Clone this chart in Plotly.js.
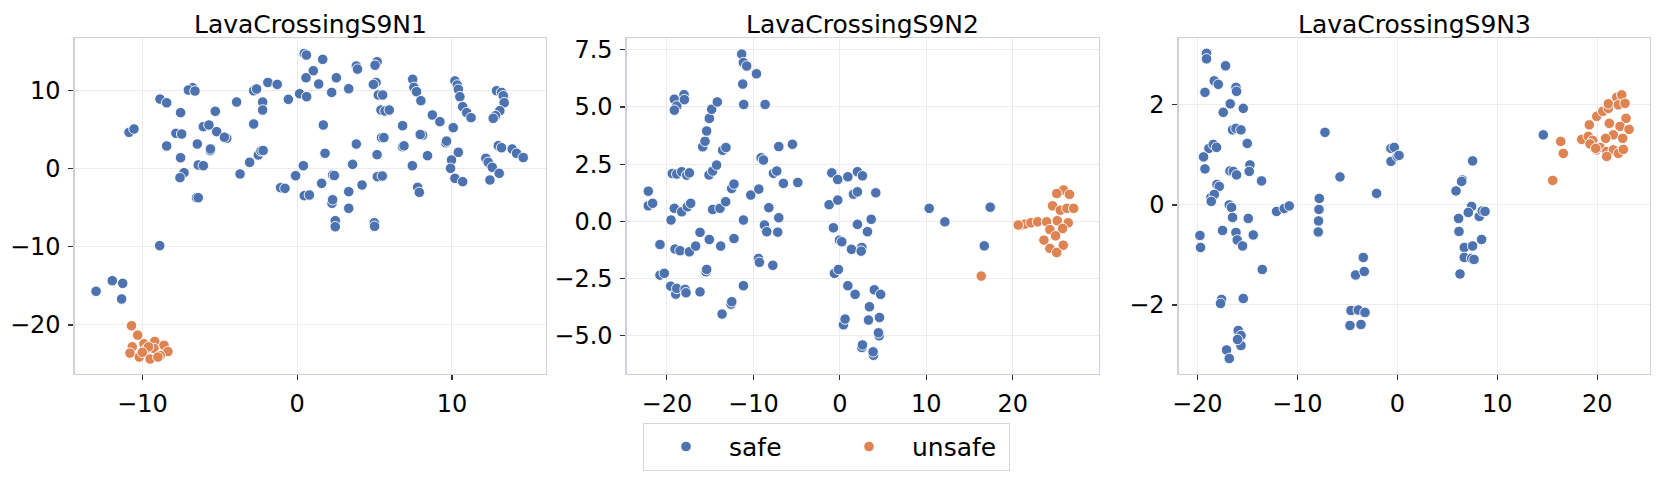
<!DOCTYPE html>
<html>
<head>
<meta charset="utf-8">
<script src="https://cdn.plot.ly/plotly-3.0.1.min.js"></script>
<style>html,body{margin:0;padding:0;background:#fff;}#chart{width:1661px;height:479px;}</style>
</head>
<body>
<div id="chart"></div>
<script>
// ---------- DATA ----------
const titles = ["LavaCrossingS9N1", "LavaCrossingS9N2", "LavaCrossingS9N3"];
const seriesNames = ["safe", "unsafe"];

// Panel 1
const p1SafeX = [0.46,0.6,1.65,1.04,0.57,1.39,2.53,2.23,3.33,3.82,3.9,5.16,5.03,5.09,4.92,5.24,5.52,5.41,5.67,5.95,0.16,0.61,-0.57,-1.89,-1.29,-2.81,-2.62,-2.23,-2.23,-3.91,-2.81,-5.29,-6.75,-7.03,-6.6,-8.86,-8.43,-7.53,-10.86,-10.54,-7.83,-7.46,-8.43,-7.53,-7.31,-7.57,-6.5,-6.39,-6.06,-5.7,-5.2,-4.55,-4.7,-6.45,-5.61,-5.6,-6.39,-6.06,-3.69,-3.07,-2.51,-2.34,-2.2,-1.07,-0.79,-0.1,0.4,0.46,0.79,1.69,1.8,1.58,2.29,2.4,2.25,2.29,2.46,2.46,3.33,3.33,3.58,3.82,4.19,5.16,5.45,5.6,5.18,5.5,4.98,5.0,6.81,6.81,6.9,7.44,7.46,7.54,7.71,7.99,8.73,9.22,8.1,7.95,8.42,7.78,7.89,9.59,9.65,10.08,10.41,9.97,9.91,10.19,10.69,10.19,10.34,10.41,10.51,10.69,10.95,11.23,12.88,13.2,13.31,13.37,13.09,12.81,12.66,12.99,13.2,13.89,14.17,14.6,12.19,12.34,12.6,13.05,12.45,-8.88,-12.99,-11.94,-11.27,-11.34];
const p1SafeY = [14.7,14.5,13.95,12.5,11.6,10.8,11.6,9.73,10.2,13.1,12.7,13.65,13.2,11.0,10.75,9.4,9.4,7.48,7.35,7.48,9.56,9.18,8.84,11.0,10.75,9.94,10.16,8.5,7.48,8.5,5.69,7.31,10.33,10.03,9.9,8.87,8.4,7.14,4.62,5.05,4.49,4.41,2.88,1.38,-0.53,-1.17,-3.73,-3.73,5.35,5.56,4.71,3.86,4.0,3.13,2.28,2.5,0.45,0.36,-0.7,0.79,1.73,2.25,2.3,-2.45,-2.54,-0.92,0.36,-3.47,-3.39,5.56,1.94,-1.9,-0.83,-0.9,-4.45,-4.0,-6.67,-7.44,-2.96,-5.09,0.53,3.13,-2.11,1.77,3.94,3.95,-1.04,-0.96,-6.93,-7.39,5.47,2.79,2.9,0.36,11.4,10.37,9.82,8.67,6.84,5.99,4.28,4.35,1.64,-2.41,-3.05,3.3,3.5,5.22,2.07,1.09,0.02,-1.26,-1.68,11.2,10.67,10.12,9.18,7.9,7.14,6.5,9.94,9.73,9.3,8.41,7.39,6.75,6.41,2.92,2.66,2.49,1.94,1.4,1.3,0.79,0.15,-0.62,-1.47,-9.86,-15.7,-14.34,-14.68,-16.68];
const p1UnsafeX = [-10.7,-10.3,-9.9,-9.2,-10.65,-8.6,-8.35,-10.8,-9.8,-9.25,-10.2,-9.5,-8.85,-9.6,-10.0,-9.0];
const p1UnsafeY = [-20.1,-21.3,-22.4,-22.1,-22.8,-22.6,-23.4,-23.6,-23.2,-23.0,-24.1,-24.35,-23.9,-22.8,-23.5,-24.1];

// Panel 2
const p2SafeX = [-22.15,-22.15,-21.65,-20.8,-20.8,-20.3,-19.56,-18.98,-18.86,-17.9,-17.79,-16.17,-19.52,-19.14,-18.29,-17.63,-17.25,-19.06,-18.48,-17.4,-16.67,-16.17,-15.09,-13.78,-12.24,-15.48,-15.4,-13.62,-12.58,-12.5,-11.15,-19.37,-18.86,-18.29,-17.71,-17.4,-19.14,-18.02,-18.86,-19.14,-17.98,-15.86,-15.59,-15.4,-15.09,-14.82,-14.17,-15.13,-14.71,-14.25,-13.55,-13.17,-14.71,-13.86,-13.2,-12.51,-12.24,-11.15,-10.3,-9.37,-11.35,-11.15,-10.77,-11.23,-11.11,-9.64,-8.64,-9.1,-8.83,-7.67,-7.29,-7.06,-5.48,-6.52,-4.86,-8.21,-7.06,-8.72,-8.45,-7.18,-9.41,-9.3,-7.75,-0.93,-0.24,0.93,2.04,2.62,1.58,2.04,4.16,-1.24,-0.24,-0.74,-0.04,0.23,1.35,2.04,3.2,3.63,2.55,2.47,-0.62,-0.16,0.93,1.77,3.99,4.72,3.43,0.42,0.61,3.32,4.59,4.55,4.47,2.55,2.62,3.9,3.85,10.34,12.15,17.4,16.71];
const p2SafeY = [1.32,0.68,0.79,-1.01,-2.35,-2.27,-2.83,-3.18,-2.93,-2.97,-3.12,-3.08,0.06,0.57,0.42,0.64,0.79,-1.21,-1.28,-1.33,-1.08,-0.48,-0.79,-1.08,-0.75,-2.2,-2.1,-4.05,-3.62,-3.51,-2.81,2.09,2.07,2.17,2.02,2.12,5.34,5.54,5.04,4.86,5.32,3.26,3.5,3.95,4.5,4.9,5.22,2.03,2.2,2.46,3.11,3.23,0.52,0.57,0.86,1.44,1.63,0.06,1.15,1.41,7.31,6.94,6.79,6.0,5.11,6.45,5.11,2.78,2.68,2.1,2.2,3.27,3.37,1.66,1.7,0.6,0.16,-0.16,-0.45,-0.47,-1.62,-1.79,-1.92,2.12,1.83,1.95,2.17,1.99,1.19,1.29,1.25,0.73,0.93,-0.28,-0.82,-0.89,-1.22,-0.13,-0.45,0.09,-1.14,-1.3,-2.27,-2.1,-2.81,-3.19,-2.99,-3.19,-3.73,-4.52,-4.27,-4.31,-4.2,-5.0,-4.87,-5.51,-5.4,-5.85,-5.7,0.57,-0.02,0.62,-1.07];
const p2UnsafeX = [16.36,25.88,25.1,26.57,24.61,25.5,26.27,27.05,21.02,21.41,22.1,22.88,23.92,25.15,26.42,24.3,25.77,24.96,23.61,25.85,24.3,25.08,20.64];
const p2UnsafeY = [-2.39,1.37,1.22,1.18,0.68,0.49,0.57,0.57,-0.16,-0.12,-0.06,-0.02,-0.02,0.03,-0.06,-0.36,-0.31,-0.63,-0.82,-1.04,-1.18,-1.36,-0.16];

// Panel 3
const p3SafeX = [-19.07,-19.07,-17.17,-18.3,-17.9,-19.23,-16.13,-16.07,-16.7,-15.4,-17.4,-16.47,-16.13,-15.63,-15.0,-18.83,-18.4,-18.07,-19.37,-19.23,-16.73,-16.4,-16.07,-14.73,-14.8,-13.57,-18.03,-17.8,-18.63,-18.3,-18.6,-16.8,-16.57,-16.47,-14.9,-17.47,-16.13,-16.0,-15.47,-14.4,-19.73,-19.67,-13.5,-12.07,-11.3,-10.8,-7.8,-7.83,-7.87,-7.9,-7.23,-5.73,-2.07,-0.63,-0.3,-0.63,0.0,0.17,-17.57,-17.67,-15.4,-15.9,-15.63,-15.63,-15.97,-17.07,-16.8,-4.17,-3.4,-3.3,-4.63,-3.9,-3.23,-4.73,-3.63,7.53,6.5,6.43,5.87,7.43,7.1,8.2,8.5,8.77,6.13,6.17,8.43,6.7,7.53,6.7,7.43,7.67,6.27,14.6];
const p3SafeY = [3.03,2.92,2.78,2.48,2.41,2.25,2.35,2.27,2.02,1.93,1.85,1.5,1.53,1.5,1.23,1.13,1.21,1.15,0.96,0.72,0.68,0.67,0.6,0.8,0.67,0.48,0.41,0.37,0.15,0.21,0.07,0.0,-0.05,-0.25,-0.27,-0.51,-0.55,-0.7,-0.82,-0.6,-0.61,-0.85,-1.29,-0.13,-0.07,-0.02,0.13,-0.09,-0.32,-0.54,1.45,0.56,0.23,1.13,1.15,0.87,0.97,0.99,-1.89,-1.97,-1.87,-2.51,-2.61,-2.81,-2.69,-2.9,-3.07,-1.4,-1.05,-1.33,-2.11,-2.1,-2.15,-2.41,-2.39,0.88,0.5,0.47,0.28,-0.03,-0.15,-0.23,-0.12,-0.13,-0.27,-0.53,-0.69,-0.85,-0.82,-1.05,-1.07,-1.09,-1.38,1.4];
const p3UnsafeX = [15.54,16.34,16.6,18.44,19.2,19.1,19.54,19.27,19.94,20.54,21.1,21.1,21.94,22.44,22.1,22.77,21.2,22.87,22.27,23.17,21.6,22.54,20.84,19.94,20.27,20.94,21.6,22.1,22.6,20.94,19.84];
const p3UnsafeY = [0.49,1.27,1.03,1.31,1.6,1.37,1.29,1.22,1.77,1.87,1.93,2.02,2.15,2.2,2.0,2.03,1.63,1.73,1.57,1.51,1.4,1.33,1.33,1.1,1.15,1.07,1.1,1.03,1.11,0.97,1.13];

// Axis ranges / ticks
const xRanges = [[-14.37, 16.07], [-24.65, 29.95], [-21.86, 25.27]];
const yRanges = [[-26.27, 16.64], [-6.67, 8.0], [-3.38, 3.33]];
const xDticks = [10, 10, 10];
const yDticks = [10, 2.5, 2];

// ---------- STYLE ----------
const FONT = "DejaVu Sans, Liberation Sans, sans-serif";
const colors = ["#4c72b0", "#dd8452"];
const xDomains = [[0.04497, 0.3287], [0.3773, 0.6615], [0.7096, 0.9934]];
const yDomain = [0.2192, 0.92];

const panels = [
  [[p1SafeX, p1SafeY], [p1UnsafeX, p1UnsafeY]],
  [[p2SafeX, p2SafeY], [p2UnsafeX, p2UnsafeY]],
  [[p3SafeX, p3SafeY], [p3UnsafeX, p3UnsafeY]]
];

const traces = [];
panels.forEach((series, i) => {
  series.forEach((s, j) => {
    traces.push({
      type: "scatter", mode: "markers",
      x: s[0], y: s[1],
      name: seriesNames[j],
      legendgroup: seriesNames[j],
      showlegend: i === 0,
      xaxis: i === 0 ? "x" : "x" + (i + 1),
      yaxis: i === 0 ? "y" : "y" + (i + 1),
      marker: { color: colors[j], size: 10.5, line: { color: "#ffffff", width: 0.9 } },
      hoverinfo: "x+y"
    });
  });
});

function axisStyle() {
  return {
    showgrid: true, gridcolor: "#ebebf0", gridwidth: 1,
    showline: true, mirror: true, linecolor: "#cfd0dc", linewidth: 1.3,
    ticks: "outside", ticklen: 5, tickwidth: 1.2, tickcolor: "#333333",
    ticklabelstandoff: 3,
    tickfont: { family: FONT, size: 24, color: "#000000" },
    zeroline: false, fixedrange: true
  };
}

const layout = {
  width: 1661, height: 479,
  margin: { l: 0, r: 0, t: 0, b: 0 },
  paper_bgcolor: "#ffffff", plot_bgcolor: "#ffffff",
  font: { family: FONT, size: 24, color: "#000000" },
  showlegend: true,
  legend: {
    orientation: "h", x: 643 / 1661, y: 1 - 422.7 / 479, xanchor: "left", yanchor: "top",
    bordercolor: "#d6d6d6", borderwidth: 1, bgcolor: "#ffffff",
    font: { family: FONT, size: 25, color: "#000000" },
    itemwidth: 76, entrywidth: 92, entrywidthmode: "pixels"
  },
  annotations: []
};

for (let i = 0; i < 3; i++) {
  const sx = i === 0 ? "" : String(i + 1);
  const xa = axisStyle(), ya = axisStyle();
  xa.domain = xDomains[i]; xa.range = xRanges[i]; xa.dtick = xDticks[i]; xa.tick0 = 0; xa.anchor = "y" + sx;
  ya.domain = yDomain; ya.range = yRanges[i]; ya.dtick = yDticks[i]; ya.tick0 = 0; ya.anchor = "x" + sx;
  if (i === 1) ya.tickformat = ".1f";
  layout["xaxis" + sx] = xa;
  layout["yaxis" + sx] = ya;
  layout.annotations.push({
    text: titles[i], xref: "paper", yref: "paper",
    x: (xDomains[i][0] + xDomains[i][1]) / 2, y: 1 - 24 / 479,
    xanchor: "center", yanchor: "middle", showarrow: false,
    font: { family: FONT, size: 25, color: "#000000" }
  });
}

Plotly.newPlot("chart", traces, layout, { displayModeBar: false, staticPlot: true });
</script>
</body>
</html>
